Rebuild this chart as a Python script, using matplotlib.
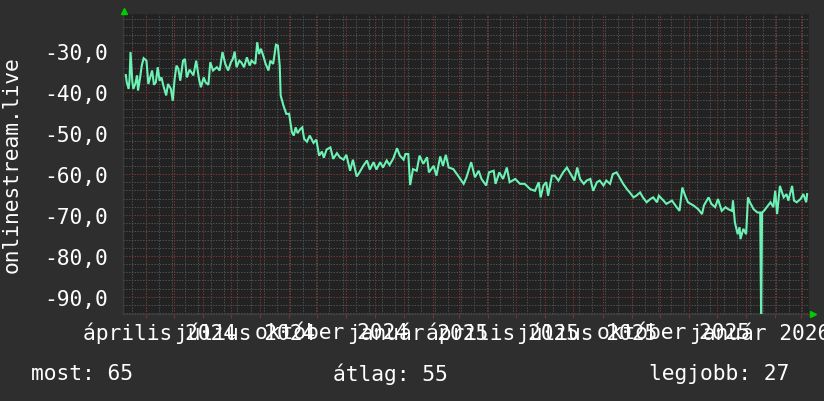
import numpy as np
import pandas as pd
import matplotlib
matplotlib.use("Agg")
import matplotlib.pyplot as plt
from matplotlib.transforms import blended_transform_factory, offset_copy

# ---------------- data ----------------
START = "2024-03-08"
END = "2026-03-09"

day_offsets = [
    3, 4, 6, 7, 8, 10, 11, 13, 15, 16, 18, 20, 22, 25, 27, 31, 33, 35, 37, 39,
    41, 43, 46, 48, 51, 53, 55, 57, 59, 61, 64, 66, 68, 71, 75, 78, 81, 83, 86, 88,
    91, 93, 96, 100, 103, 106, 109, 112, 115, 117, 119, 121, 124, 126, 129, 132, 135, 137, 141, 143,
    145, 147, 150, 152, 155, 157, 160, 163, 165, 167, 168, 171, 174, 177, 180, 182, 184, 186, 189, 191,
    193, 196, 199, 203, 206, 209, 212, 214, 217, 221, 224, 228, 231, 235, 238, 242, 245, 249, 252, 256,
    260, 263, 267, 270, 274, 277, 281, 284, 288, 292, 295, 299, 301, 304, 306, 309, 313, 316, 320, 324,
    326, 331, 334, 338, 341, 344, 347, 352, 357, 363, 366, 371, 375, 379, 382, 387, 390, 395, 397, 401,
    405, 409, 412, 418, 423, 428, 434, 439, 443, 445, 448, 451, 453, 457, 460, 464, 469, 473, 476, 481,
    484, 487, 491, 494, 498, 501, 505, 508, 512, 515, 519, 522, 526, 530, 533, 537, 540, 544, 547, 551,
    554, 558, 562, 565, 569, 571, 576, 579, 585, 590, 593, 596, 599, 602, 608, 613, 617, 619, 624, 627,
    631, 634, 638, 642, 645, 649, 650, 652, 655, 657, 658, 661, 664, 666, 668, 672, 676, 679, 680, 681,
    683, 686, 690, 693, 695, 697, 700, 704, 707, 709, 713, 715, 718, 722, 725, 728, 729,
]

values = [
    -35.8, -37.6, -39.2, -36.8, -30.2, -37.6, -39.2, -38.0, -35.9, -39.6, -36.8, -33.5, -31.7, -32.3, -38.0, -34.7, -38.2, -37.6, -33.9, -37.2,
    -36.4, -38.4, -40.8, -38.0, -39.2, -42.1, -36.8, -33.5, -34.3, -37.2, -32.3, -31.9, -36.4, -34.5, -35.9, -32.3, -36.8, -38.8, -36.4, -37.6,
    -38.2, -32.7, -34.7, -33.9, -34.7, -30.2, -33.1, -34.7, -32.7, -31.9, -30.1, -33.9, -32.3, -32.7, -33.9, -31.5, -33.5, -32.3, -33.1, -27.8,
    -30.7, -29.4, -31.5, -33.1, -34.7, -32.3, -33.1, -28.4, -28.6, -33.5, -40.8, -43.3, -45.3, -45.3, -49.8, -50.6, -48.6, -50.0, -49.0, -48.6,
    -51.4, -52.1, -50.6, -52.4, -51.6, -55.5, -54.5, -56.0, -54.0, -53.5, -56.3, -54.9, -55.9, -56.5, -55.3, -59.2, -56.5, -60.6, -59.6, -58.0,
    -56.7, -58.9, -57.1, -58.9, -57.1, -58.4, -56.7, -57.8, -56.2, -53.7, -55.5, -56.5, -55.1, -55.1, -62.7, -58.8, -59.2, -55.5, -57.5, -55.9,
    -59.6, -58.0, -60.4, -55.7, -58.0, -55.3, -58.4, -58.8, -60.4, -62.4, -60.8, -57.1, -60.8, -59.2, -61.2, -62.8, -59.6, -59.2, -62.4, -59.6,
    -61.2, -58.4, -62.0, -61.2, -62.4, -62.4, -63.7, -64.1, -62.0, -65.7, -62.8, -62.0, -65.3, -60.4, -60.4, -61.6, -59.6, -58.4, -59.6, -61.6,
    -58.4, -61.2, -62.4, -61.6, -61.2, -64.1, -62.0, -61.6, -62.8, -61.6, -62.4, -60.0, -59.6, -61.2, -62.4, -63.7, -64.5, -65.7, -65.3, -64.5,
    -65.7, -66.9, -66.1, -65.7, -66.9, -65.3, -66.5, -67.3, -66.5, -68.1, -69.0, -63.3, -65.3, -66.9, -67.7, -68.6, -69.8, -67.7, -65.7, -67.3,
    -68.1, -66.1, -69.0, -68.1, -68.6, -69.0, -66.5, -71.8, -74.7, -73.0, -75.9, -73.4, -74.7, -65.7, -66.9, -68.6, -69.4, -69.4, -96.0, -69.4,
    -69.0, -68.1, -66.9, -68.1, -64.1, -69.8, -62.9, -65.7, -64.9, -66.5, -62.9, -66.5, -66.9, -66.1, -64.9, -66.9, -64.9,
]

x_label_dates = ["2024-04-01", "2024-07-01", "2024-10-01", "2025-01-01",
                 "2025-04-01", "2025-07-01", "2025-10-01", "2026-01-01"]
x_label_texts = ["április 2024", "július 2024", "október 2024", "január 2025",
                 "április 2025", "július 2025", "október 2025", "január 2026"]

y_major_ticks = [-90, -80, -70, -60, -50, -40, -30]
y_range = (-94.2, -20.9)

series_name = "onlinestream.live"
footer_items = ["most: 65", "átlag: 55", "legjobb: 27"]

# ---------------- style ----------------
FONT = "DejaVu Sans Mono"
FS = 15.3
BG = "#2e2e2e"
PLOT_BG = "#222222"
LINE = "#6cf2b4"
MAJ = "#7a3434"
MIN = "#505050"
TXT = "#ffffff"

plt.rcParams["font.family"] = [FONT, "DejaVu Sans"]

fig = plt.figure(figsize=(8.24, 4.02), dpi=100, facecolor=BG)
W, H = 824, 402
ax = fig.add_axes([123 / W, 1 - 315 / H, (809 - 123) / W, (315 - 15) / H])
ax.set_facecolor(PLOT_BG)

t0 = np.datetime64(START)
xs = t0 + np.array(day_offsets).astype("timedelta64[D]")
ax.set_xlim(np.datetime64(START), np.datetime64(END))
ax.set_ylim(*y_range)

# grid: horizontal
dots = (0, (1.4, 1.4))
for v in np.arange(-94, -20, 2):
    if v % 10 == 0:
        continue
    ax.axhline(v, color=MIN, lw=0.72, ls=dots, zorder=1)
for v in y_major_ticks + [-20]:
    ax.axhline(v, color=MAJ, lw=0.72, ls=dots, zorder=1.5)

# grid: vertical (biweekly mondays gray, month starts red)
for d in pd.date_range("2024-03-18", END, freq="14D"):
    ax.axvline(d, color=MIN, lw=0.72, ls=dots, zorder=1)
month_starts = pd.date_range("2024-04-01", END, freq="MS")
for d in month_starts:
    ax.axvline(d, color=MAJ, lw=0.72, ls=dots, zorder=1.5)

ax.plot(xs, values, color=LINE, lw=1.5, zorder=3, solid_joinstyle="miter")

# y ticks
ax.set_yticks(y_major_ticks)
ax.set_yticklabels([f"{v:.1f}".replace(".", ",") for v in y_major_ticks])
ax.tick_params(axis="y", length=0, pad=10.8, labelsize=FS, labelcolor=TXT)

# x labels: centered on the month interval (label tick + 15 days)
label_pos = [np.datetime64(d) + np.timedelta64(15, "D") for d in x_label_dates]
ax.set_xticks(label_pos)
ax.set_xticklabels(x_label_texts)
ax.tick_params(axis="x", length=0, pad=5.5, labelsize=FS, labelcolor=TXT)
ax.set_xticks(month_starts, minor=True)
ax.tick_params(axis="x", which="minor", length=3, color=MAJ, width=0.8)

for s in ["top", "right"]:
    ax.spines[s].set_visible(False)
for s in ["left", "bottom"]:
    ax.spines[s].set_color("#3c3c3c")
    ax.spines[s].set_linewidth(1.0)

# arrows
ax.plot([0], [1], marker="^", ms=5, color="#00cc00", mec="#00cc00",
        transform=offset_copy(ax.transAxes, fig=fig, x=1.5, y=3.5, units="dots"),
        clip_on=False, zorder=5)
ax.plot([1], [0], marker=">", ms=5, color="#00cc00", mec="#00cc00",
        transform=offset_copy(ax.transAxes, fig=fig, x=4, y=0, units="dots"),
        clip_on=False, zorder=5)

# y label
fig.text(12 / W, 1 - 165 / H, series_name, rotation=90, ha="center", va="center",
         fontsize=FS, color=TXT, family=FONT)

# footer
footer_x = [31, 333, 649]
for txt, xp in zip(footer_items, footer_x):
    fig.text(xp / W, 1 - 374 / H, txt, ha="left", va="center", fontsize=FS,
             color=TXT, family=FONT)

fig.savefig("out.png", dpi=100, facecolor=BG)
